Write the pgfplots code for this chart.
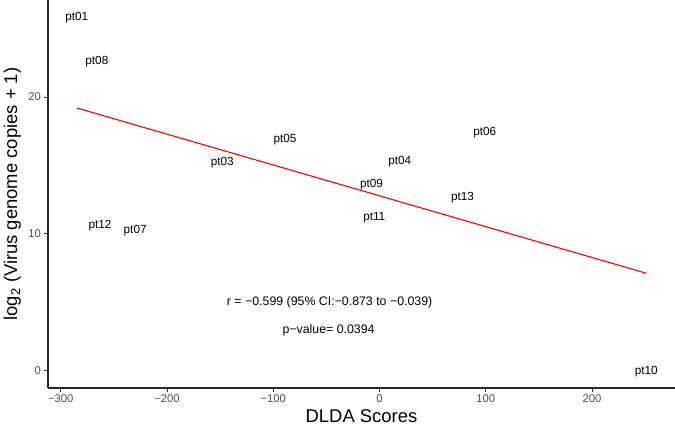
\documentclass[border=0pt]{standalone}
\usepackage{pgfplots}
\usepackage{pgfplotstable}
\pgfplotsset{compat=1.18}
\usepackage{fontspec}
\setmainfont{Liberation Sans}
\definecolor{tickgrey}{HTML}{4D4D4D}
\definecolor{tickmark}{HTML}{333333}

% DLDA score vs log2 virus copies, one row per patient
\pgfplotstableread{
x     y     label
-285  25.8  pt01
-266  22.6  pt08
-89   16.9  pt05
-148  15.2  pt03
99    17.4  pt06
19    15.3  pt04
-7.5  13.6  pt09
78    12.6  pt13
-5    11.2  pt11
-263  10.6  pt12
-230  10.2  pt07
251   -0.1  pt10
}\ptdata

\begin{document}
\begin{tikzpicture}
\begin{axis}[
  at={(48bp,41bp)}, anchor=south west,
  scale only axis, width=627bp, height=388bp,
  xmin=-312, xmax=278, ymin=-1.3, ymax=27.1,
  axis lines=left, axis line style={-, black!85, line width=1.2bp},
  tick align=outside, major tick length=3.5bp,
  tick style={tickmark, line width=0.9bp},
  xtick={-300,-200,-100,0,100,200},
  xticklabels={−300,−200,−100,0,100,200},
  ytick={0,10,20}, yticklabels={0,10,20},
  ticklabel style={font=\fontsize{11.3}{13}\selectfont, text=tickgrey},
  xlabel={DLDA Scores},
  ylabel={log\textsubscript{2} (Virus genome copies + 1)},
  label style={font=\fontsize{18.5}{22}\selectfont},
  xlabel style={at={(axis description cs:0.5,-0.0902)}, anchor=base},
  ylabel style={at={(axis description cs:-0.0494,0.5)}, anchor=base},
  clip=false,
]
\addplot[draw=none, mark=none, nodes near coords, point meta=explicit symbolic,
  nodes near coords style={anchor=center, inner sep=0pt, font=\fontsize{11.8}{14}\selectfont, text=black}]
  table[x=x, y=y, meta=label] {\ptdata};
\addplot[red, line width=1.1bp] coordinates {(-285,19.2) (251,7.1)};
\node[font=\fontsize{12.4}{14}\selectfont] at (axis cs:-47,5.0) {r = −0.599 (95\% CI:−0.873 to −0.039)};
\node[font=\fontsize{12.4}{14}\selectfont] at (axis cs:-48,2.9) {p−value= 0.0394};
\end{axis}
\pgfresetboundingbox
\path (0,0) rectangle (675bp,429bp);
\end{tikzpicture}
\end{document}
